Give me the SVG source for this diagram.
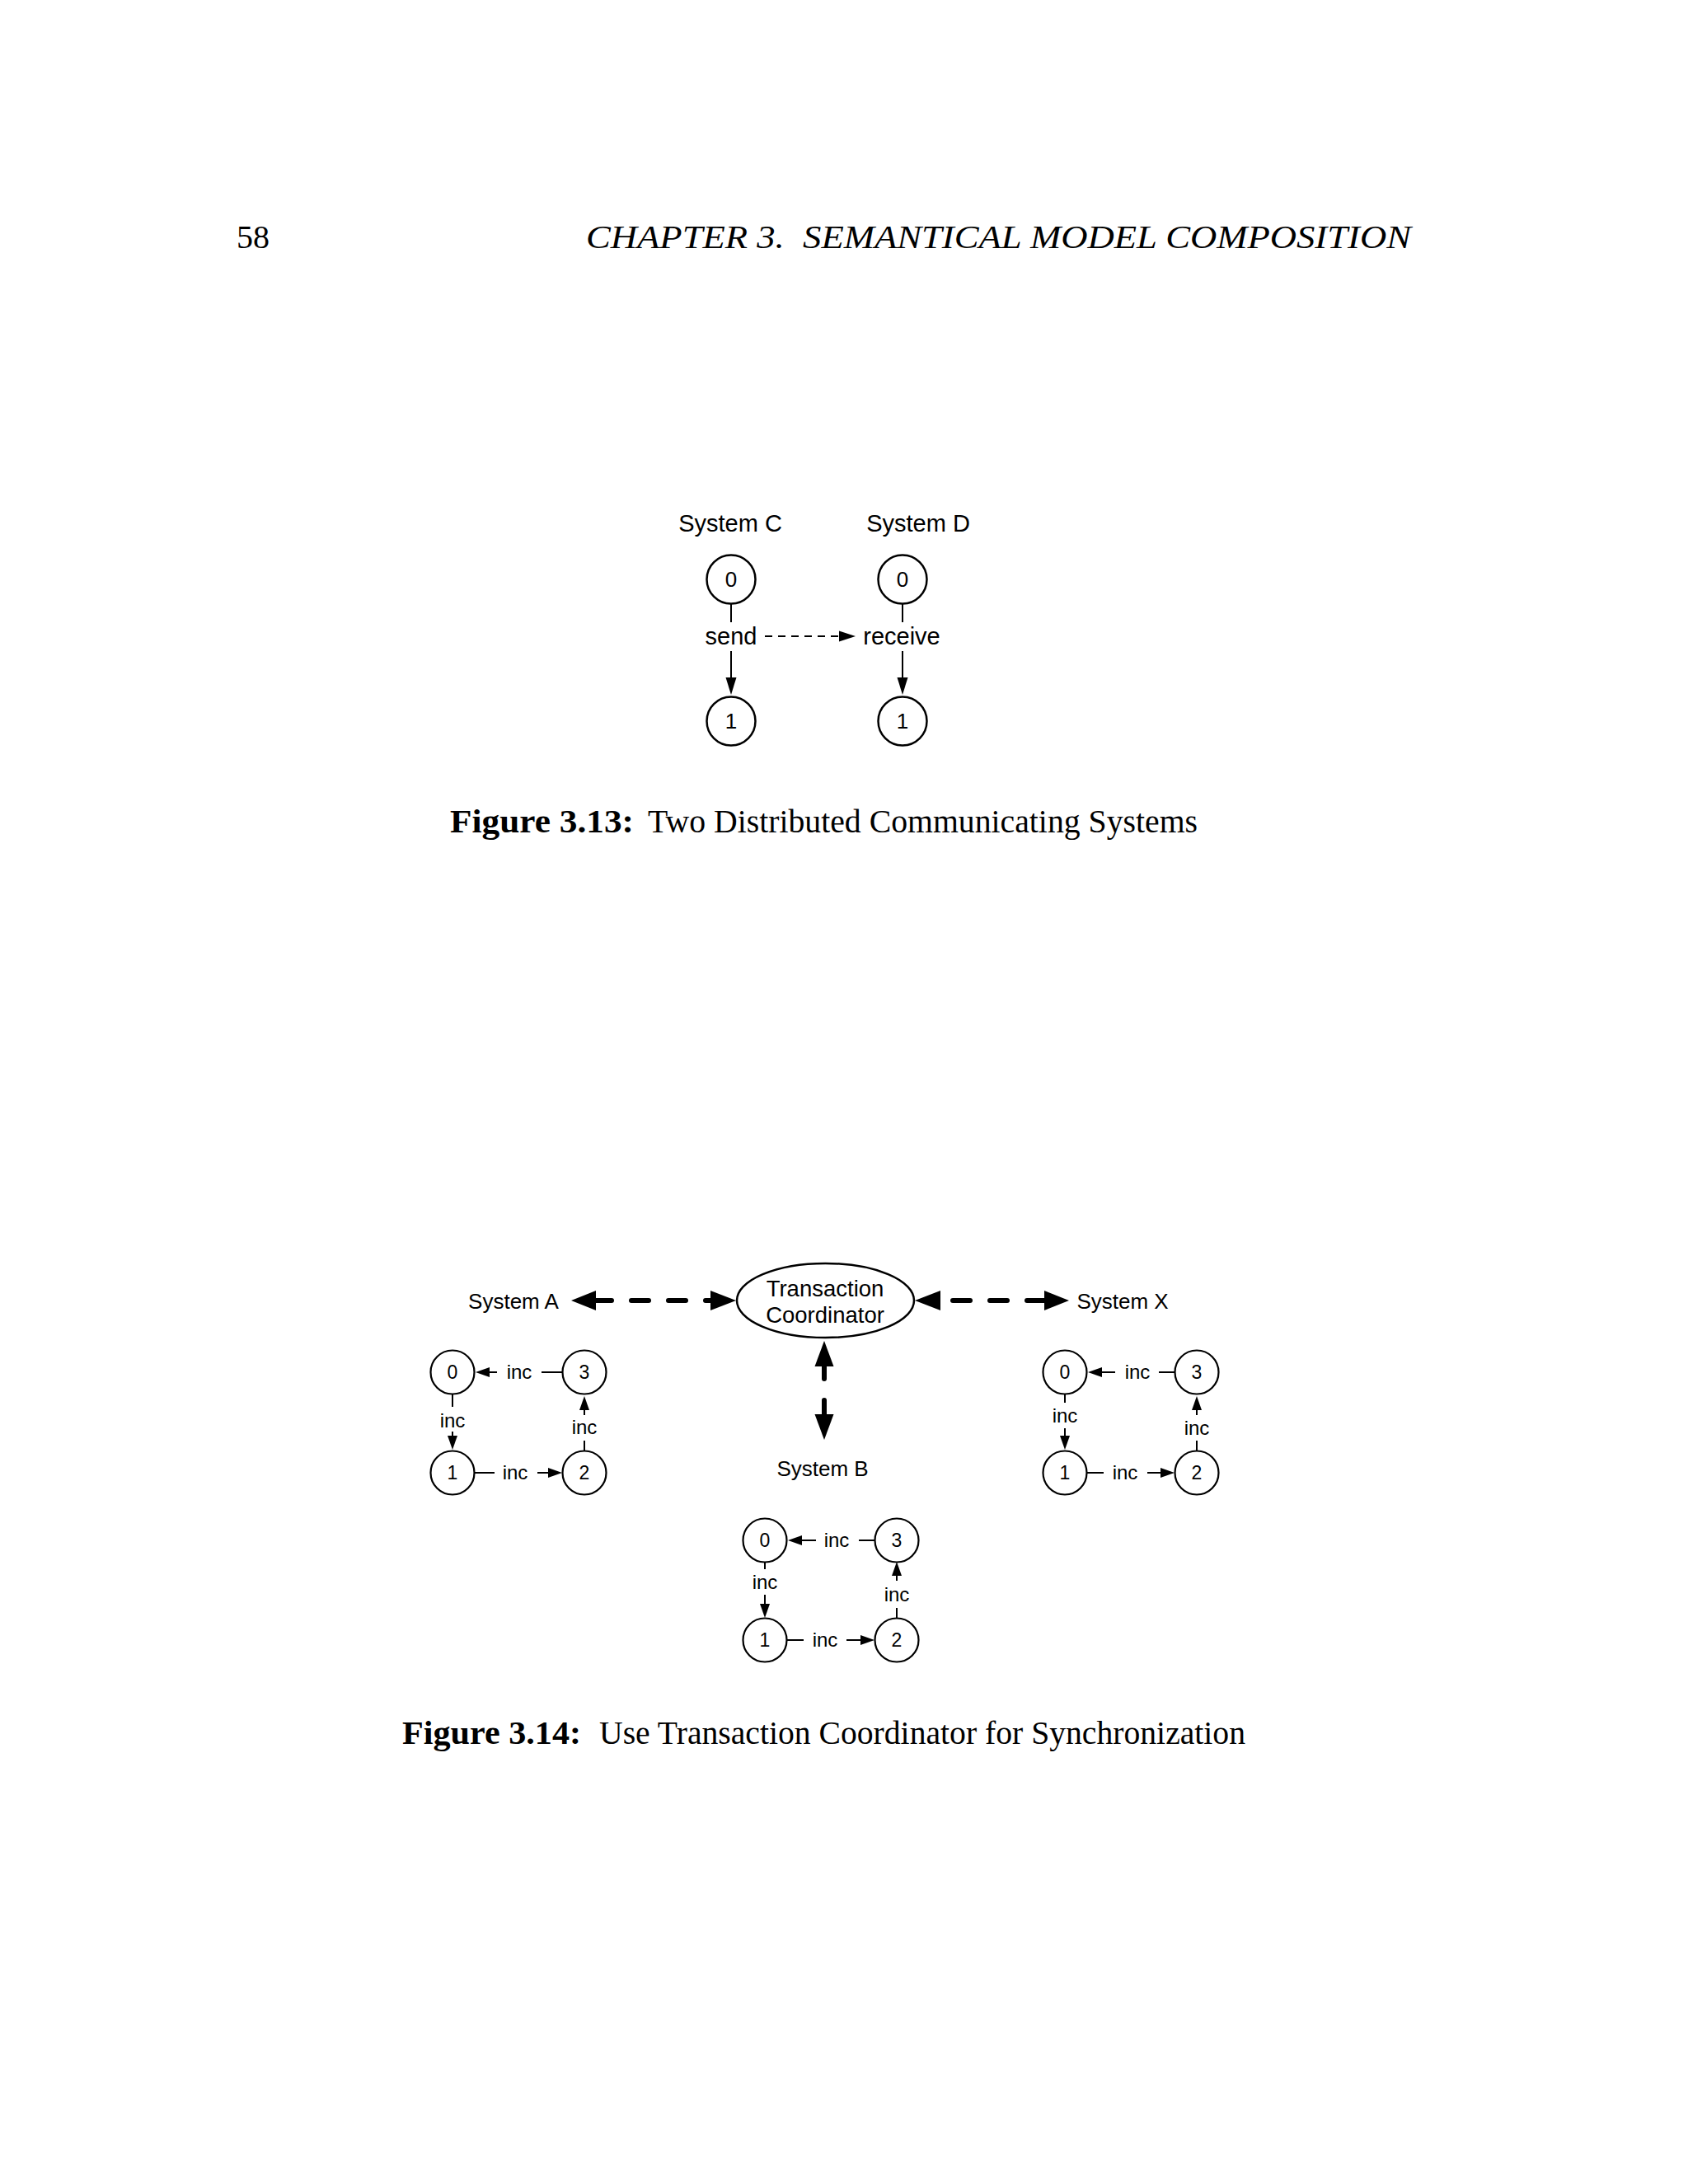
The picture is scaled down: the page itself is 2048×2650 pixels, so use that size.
<svg xmlns="http://www.w3.org/2000/svg" width="2048" height="2650" viewBox="0 0 2048 2650">
<style>
.serif{font-family:"Liberation Serif","DejaVu Serif",serif;font-size:40px;fill:#000}
.it{font-style:italic}
.bd{font-weight:bold}
.sans{font-family:"Liberation Sans",Arial,sans-serif;fill:#000;text-anchor:middle}
.lbl28{font-size:29px}
.lbl26{font-size:26px}
.d24{font-size:26px}
.d21{font-size:23px}
.inc{font-size:24px}
.st{fill:#fff;stroke:#000;stroke-width:2.5}
.st2{fill:#fff;stroke:#000;stroke-width:2.2}
.ln{stroke:#000;stroke-width:2;fill:none}
.thick{stroke:#000;stroke-width:6;stroke-linecap:round;fill:none}
.head{fill:#000}
</style>
<rect width="2048" height="2650" fill="#fff"/>

<!-- page header -->
<text class="serif" x="287" y="301">58</text>
<text class="serif it" x="711" y="301" xml:space="preserve" textLength="1001" lengthAdjust="spacingAndGlyphs">CHAPTER 3.  SEMANTICAL MODEL COMPOSITION</text>

<!-- Figure 3.13 -->
<g id="fig13-labels">
<text class="sans lbl28" x="886" y="645">System C</text>
<text class="sans lbl28" x="1114" y="645">System D</text>
</g>
<g id="C0"><circle class="st" cx="887" cy="703" r="29.5"/><text class="sans d24" x="887" y="712">0</text></g>
<g id="C1"><circle class="st" cx="887" cy="875" r="29.5"/><text class="sans d24" x="887" y="884">1</text></g>
<g id="D0"><circle class="st" cx="1095" cy="703" r="29.5"/><text class="sans d24" x="1095" y="712">0</text></g>
<g id="D1"><circle class="st" cx="1095" cy="875" r="29.5"/><text class="sans d24" x="1095" y="884">1</text></g>
<g id="fig13-connectors">
<line class="ln" x1="887" y1="733" x2="887" y2="755"/>
<text class="sans lbl28" x="887" y="782">send</text>
<line class="ln" x1="887" y1="790" x2="887" y2="824"/>
<polygon class="head" points="880.5,822 893.5,822 887,843"/>
<line class="ln" x1="1095" y1="733" x2="1095" y2="755"/>
<text class="sans lbl28" x="1094" y="782">receive</text>
<line class="ln" x1="1095" y1="790" x2="1095" y2="824"/>
<polygon class="head" points="1088.5,822 1101.5,822 1095,843"/>
<line class="ln" x1="928" y1="772" x2="1020" y2="772" stroke-dasharray="9 7"/>
<polygon class="head" points="1018,765.5 1018,778.5 1038,772"/>
</g>
<text class="serif bd" x="546" y="1010" textLength="223" lengthAdjust="spacingAndGlyphs">Figure 3.13:</text>
<text class="serif" x="786" y="1010" textLength="667" lengthAdjust="spacingAndGlyphs">Two Distributed Communicating Systems</text>

<!-- Figure 3.14 -->
<g id="coordinator">
<ellipse class="st" cx="1001.5" cy="1578" rx="107.5" ry="45" stroke-width="2.2"/>
<text class="sans" font-size="27.5" x="1001" y="1573">Transaction</text>
<text class="sans" font-size="27.5" x="1001" y="1605">Coordinator</text>
</g>
<g id="labels14">
<text class="sans lbl26" x="623" y="1588">System A</text>
<text class="sans lbl26" x="1362" y="1588">System X</text>
<text class="sans lbl26" x="998" y="1791">System B</text>
</g>

<g id="big-connectors">
<polygon class="head" points="693,1578 723,1566 723,1590"/>
<line class="thick" x1="723" y1="1578" x2="742" y2="1578"/>
<line class="thick" x1="766" y1="1578" x2="787" y2="1578"/>
<line class="thick" x1="811" y1="1578" x2="832" y2="1578"/>
<line class="thick" x1="856" y1="1578" x2="864" y2="1578"/>
<polygon class="head" points="893,1578 862,1566 862,1590"/>
<polygon class="head" points="1110,1578 1141,1566 1141,1590"/>
<line class="thick" x1="1156" y1="1578" x2="1177" y2="1578"/>
<line class="thick" x1="1201" y1="1578" x2="1222" y2="1578"/>
<line class="thick" x1="1246" y1="1578" x2="1269" y2="1578"/>
<polygon class="head" points="1297,1578 1267,1566 1267,1590"/>
<polygon class="head" points="1000,1627 988.5,1658 1011.5,1658"/>
<line class="thick" x1="1000" y1="1656" x2="1000" y2="1673"/>
<line class="thick" x1="1000" y1="1699" x2="1000" y2="1719"/>
<polygon class="head" points="1000,1747 988.5,1716 1011.5,1716"/>
</g>

<!-- System A -->
<g id="A0"><circle class="st2" cx="549" cy="1665" r="26.5"/><text class="sans d21" x="549" y="1673">0</text></g>
<g id="A1"><circle class="st2" cx="549" cy="1787" r="26.5"/><text class="sans d21" x="549" y="1795">1</text></g>
<g id="A2"><circle class="st2" cx="709" cy="1787" r="26.5"/><text class="sans d21" x="709" y="1795">2</text></g>
<g id="A3"><circle class="st2" cx="709" cy="1665" r="26.5"/><text class="sans d21" x="709" y="1673">3</text></g>
<g id="A-connectors">
<line class="ln" x1="657" y1="1665" x2="682" y2="1665"/>
<text class="sans inc" x="630" y="1673">inc</text>
<line class="ln" x1="592" y1="1665" x2="603" y2="1665"/>
<polygon class="head" points="577,1665 594,1659 594,1671"/>
<line class="ln" x1="549" y1="1692" x2="549" y2="1707"/>
<text class="sans inc" x="549" y="1732">inc</text>
<line class="ln" x1="549" y1="1737" x2="549" y2="1745"/>
<polygon class="head" points="549,1759 543,1742 555,1742"/>
<line class="ln" x1="576" y1="1787" x2="600" y2="1787"/>
<text class="sans inc" x="625" y="1795">inc</text>
<line class="ln" x1="652" y1="1787" x2="667" y2="1787"/>
<polygon class="head" points="682,1787 665,1781 665,1793"/>
<line class="ln" x1="709" y1="1760" x2="709" y2="1748"/>
<text class="sans inc" x="709" y="1740">inc</text>
<line class="ln" x1="709" y1="1717" x2="709" y2="1708"/>
<polygon class="head" points="709,1694 703,1711 715,1711"/>
</g>

<!-- System X -->
<g id="X0"><circle class="st2" cx="1292" cy="1665" r="26.5"/><text class="sans d21" x="1292" y="1673">0</text></g>
<g id="X1"><circle class="st2" cx="1292" cy="1787" r="26.5"/><text class="sans d21" x="1292" y="1795">1</text></g>
<g id="X2"><circle class="st2" cx="1452" cy="1787" r="26.5"/><text class="sans d21" x="1452" y="1795">2</text></g>
<g id="X3"><circle class="st2" cx="1452" cy="1665" r="26.5"/><text class="sans d21" x="1452" y="1673">3</text></g>
<g id="X-connectors">
<line class="ln" x1="1406" y1="1665" x2="1425" y2="1665"/>
<text class="sans inc" x="1380" y="1673">inc</text>
<line class="ln" x1="1334" y1="1665" x2="1353" y2="1665"/>
<polygon class="head" points="1320,1665 1337,1659 1337,1671"/>
<line class="ln" x1="1292" y1="1692" x2="1292" y2="1702"/>
<text class="sans inc" x="1292" y="1726">inc</text>
<line class="ln" x1="1292" y1="1733" x2="1292" y2="1745"/>
<polygon class="head" points="1292,1759 1286,1742 1298,1742"/>
<line class="ln" x1="1319" y1="1787" x2="1339" y2="1787"/>
<text class="sans inc" x="1365" y="1795">inc</text>
<line class="ln" x1="1392" y1="1787" x2="1410" y2="1787"/>
<polygon class="head" points="1425,1787 1408,1781 1408,1793"/>
<line class="ln" x1="1452" y1="1760" x2="1452" y2="1748"/>
<text class="sans inc" x="1452" y="1741">inc</text>
<line class="ln" x1="1452" y1="1717" x2="1452" y2="1708"/>
<polygon class="head" points="1452,1694 1446,1711 1458,1711"/>
</g>

<!-- System B -->
<g id="B0"><circle class="st2" cx="928" cy="1869" r="26.5"/><text class="sans d21" x="928" y="1877">0</text></g>
<g id="B1"><circle class="st2" cx="928" cy="1990" r="26.5"/><text class="sans d21" x="928" y="1998">1</text></g>
<g id="B2"><circle class="st2" cx="1088" cy="1990" r="26.5"/><text class="sans d21" x="1088" y="1998">2</text></g>
<g id="B3"><circle class="st2" cx="1088" cy="1869" r="26.5"/><text class="sans d21" x="1088" y="1877">3</text></g>
<g id="B-connectors">
<line class="ln" x1="1042" y1="1869" x2="1061" y2="1869"/>
<text class="sans inc" x="1015" y="1877">inc</text>
<line class="ln" x1="971" y1="1869" x2="990" y2="1869"/>
<polygon class="head" points="956,1869 973,1863 973,1875"/>
<line class="ln" x1="928" y1="1896" x2="928" y2="1904"/>
<text class="sans inc" x="928" y="1928">inc</text>
<line class="ln" x1="928" y1="1935" x2="928" y2="1948"/>
<polygon class="head" points="928,1963 922,1946 934,1946"/>
<line class="ln" x1="955" y1="1990" x2="975" y2="1990"/>
<text class="sans inc" x="1001" y="1998">inc</text>
<line class="ln" x1="1027" y1="1990" x2="1046" y2="1990"/>
<polygon class="head" points="1061,1990 1044,1984 1044,1996"/>
<line class="ln" x1="1088" y1="1963" x2="1088" y2="1951"/>
<text class="sans inc" x="1088" y="1943">inc</text>
<line class="ln" x1="1088" y1="1918" x2="1088" y2="1909"/>
<polygon class="head" points="1088,1895 1082,1912 1094,1912"/>
</g>

<text class="serif bd" x="488" y="2116" textLength="217" lengthAdjust="spacingAndGlyphs">Figure 3.14:</text>
<text class="serif" x="727" y="2116" textLength="784" lengthAdjust="spacingAndGlyphs">Use Transaction Coordinator for Synchronization</text>
</svg>
